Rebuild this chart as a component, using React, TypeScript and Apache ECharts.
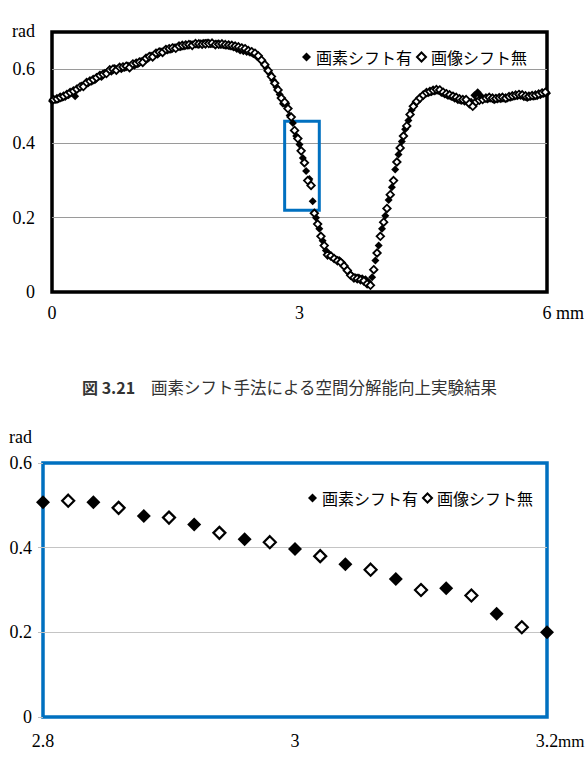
import React, { useEffect, useRef } from "react";
import * as echarts from "echarts";

// ---- data ----
const seriesNames = ["画素シフト有", "画像シフト無"];
const xStep = 0.04;
const filledStartX = 0; // 画素シフト有 : 0.00, 0.04, ... 6.00
const openStartX = 0.02; // 画像シフト無 : 0.02, 0.06, ... 5.98

const filledValues = [
  0.514, 0.517, 0.519, 0.522, 0.525, 0.530, 0.536, 0.527, 0.549, 0.556, 0.560, 0.562, 0.566, 0.570, 0.580, 0.579, 0.590, 0.595, 0.593, 0.603, 0.602, 0.600, 0.603, 0.610, 0.611,
  0.609, 0.613, 0.622, 0.626, 0.627, 0.637, 0.640, 0.639, 0.648, 0.651, 0.650, 0.652, 0.659, 0.660, 0.659, 0.661, 0.663, 0.668, 0.667, 0.666, 0.670, 0.671, 0.672, 0.667, 0.668,
  0.669, 0.665, 0.664, 0.663, 0.661, 0.658, 0.654, 0.650, 0.648, 0.646, 0.644, 0.640, 0.634, 0.628, 0.618, 0.603, 0.588, 0.570, 0.552, 0.532, 0.507, 0.507, 0.475, 0.455, 0.420,
  0.397, 0.361, 0.326, 0.304, 0.244, 0.200, 0.170, 0.138, 0.112, 0.102, 0.093, 0.088, 0.086, 0.078, 0.064, 0.052, 0.042, 0.040, 0.039, 0.037, 0.034, 0.026, 0.040, 0.085, 0.125,
  0.170, 0.205, 0.248, 0.282, 0.330, 0.370, 0.405, 0.438, 0.462, 0.490, 0.508, 0.518, 0.527, 0.534, 0.535, 0.538, 0.540, 0.541, 0.536, 0.532, 0.528, 0.525, 0.520, 0.516, 0.514,
  0.512, 0.515, 0.512, 0.530, 0.538, 0.528, 0.520, 0.518, 0.520, 0.516, 0.518, 0.519, 0.520, 0.521, 0.523, 0.526, 0.527, 0.528, 0.524, 0.522, 0.525, 0.526, 0.527, 0.530, 0.533,
  0.535,
];

const openValues = [
  0.518, 0.520, 0.524, 0.527, 0.532, 0.537, 0.541, 0.546, 0.552, 0.553, 0.564, 0.568, 0.572, 0.577, 0.583, 0.586, 0.588, 0.598, 0.600, 0.597, 0.605, 0.606, 0.608, 0.604, 0.614,
  0.616, 0.619, 0.618, 0.629, 0.634, 0.633, 0.643, 0.646, 0.645, 0.653, 0.655, 0.657, 0.656, 0.662, 0.664, 0.665, 0.666, 0.664, 0.669, 0.668, 0.667, 0.668, 0.669, 0.670, 0.666,
  0.667, 0.668, 0.666, 0.665, 0.664, 0.662, 0.660, 0.657, 0.655, 0.650, 0.647, 0.643, 0.636, 0.624, 0.612, 0.596, 0.580, 0.562, 0.544, 0.522, 0.511, 0.494, 0.471, 0.435, 0.413,
  0.380, 0.348, 0.300, 0.287, 0.212, 0.183, 0.150, 0.125, 0.100, 0.097, 0.090, 0.084, 0.080, 0.070, 0.058, 0.045, 0.038, 0.036, 0.033, 0.030, 0.022, 0.018, 0.060, 0.105, 0.150,
  0.188, 0.225, 0.262, 0.300, 0.350, 0.388, 0.420, 0.447, 0.478, 0.500, 0.513, 0.522, 0.530, 0.537, 0.540, 0.543, 0.545, 0.544, 0.538, 0.534, 0.531, 0.527, 0.524, 0.520, 0.518,
  0.518, 0.507, 0.500, 0.512, 0.516, 0.518, 0.522, 0.524, 0.522, 0.521, 0.523, 0.524, 0.522, 0.526, 0.528, 0.530, 0.532, 0.531, 0.528, 0.527, 0.529, 0.530, 0.533, 0.536, 0.538,
];

const topXRange = [0, 6];
const topXInterval = 3;
const topYRange = [0, 0.7];
const bottomXRange = [2.8, 3.2];
const bottomYRange = [0, 0.6];
const yInterval = 0.2;
const zoomBoxX = [2.82, 3.24];
const zoomBoxY = [0.22, 0.46];
const unitY = "rad";
const unitX = "mm";
const captionLabel = "図 3.21";
const captionText = "画素シフト手法による空間分解能向上実験結果";

const toPoints = (x0: number, values: number[]) =>
  values.map((v, i) => [Math.round((x0 + i * xStep) * 100) / 100, v]);

const SERIF = "'Liberation Serif', 'Times New Roman', serif";
const CJK = "'Noto Sans CJK JP', 'Noto Sans', sans-serif";

const fmtY = (v: number) => {
  if (Math.abs(v) < 1e-9) return "0";
  if (Math.abs(v - 0.7) < 1e-6) return "";
  return v.toFixed(1);
};
const fmtX = (v: number) => String(Math.round(v * 10) / 10);

export default function App() {
  const ref = useRef<HTMLDivElement>(null);
  useEffect(() => {
    if (!ref.current) return;
    const chart = echarts.init(ref.current, null, { renderer: "svg" });
    const filledPts = toPoints(filledStartX, filledValues);
    const openPts = toPoints(openStartX, openValues);

    const labelStyle = (margin: number) => ({
      margin,
      fontFamily: SERIF,
      fontSize: 18,
      color: "#000",
    });

    const textEl = (text: string, x: number, y: number, align: string, font: string, fill = "#000", extra: any = {}) => ({
      type: "text",
      x,
      y,
      silent: true,
      style: {
        text,
        font,
        fill,
        align,
        verticalAlign: "middle",
        textAlign: align,
        textVerticalAlign: "middle",
        ...extra,
      },
    });

    const option: any = {
      animation: false,
      backgroundColor: "#ffffff",
      grid: [
        { left: 52, top: 32, width: 495, height: 260, show: true, borderColor: "#000", borderWidth: 3.5, backgroundColor: "transparent" },
        { left: 43, top: 463, width: 504, height: 254, show: true, borderColor: "#0070c0", borderWidth: 3.5, backgroundColor: "transparent" },
      ],
      xAxis: [
        {
          type: "value", gridIndex: 0, min: topXRange[0], max: topXRange[1], interval: topXInterval,
          axisLine: { show: false }, axisTick: { show: false }, splitLine: { show: false },
          axisLabel: { ...labelStyle(12), formatter: fmtX },
        },
        {
          type: "value", gridIndex: 1, min: bottomXRange[0], max: bottomXRange[1], interval: 0.2,
          axisLine: { show: false }, axisTick: { show: false }, splitLine: { show: false },
          axisLabel: { ...labelStyle(15), formatter: fmtX },
        },
      ],
      yAxis: [
        {
          type: "value", gridIndex: 0, min: topYRange[0], max: topYRange[1], interval: yInterval,
          axisLine: { show: false }, axisTick: { show: false },
          splitLine: { show: true, showMinLine: false, showMaxLine: false, lineStyle: { color: "#9a9a9a", width: 1 } },
          axisLabel: { ...labelStyle(17), formatter: fmtY },
        },
        {
          type: "value", gridIndex: 1, min: bottomYRange[0], max: bottomYRange[1], interval: yInterval,
          axisLine: { show: false },
          axisTick: { show: true, length: 5, lineStyle: { color: "#bfbfbf" } },
          splitLine: { show: true, showMinLine: false, showMaxLine: false, lineStyle: { color: "#c4c4c4", width: 1 } },
          axisLabel: { ...labelStyle(11), formatter: fmtY },
        },
      ],
      legend: [
        {
          data: seriesNames, right: 53, top: 44, itemWidth: 9, itemHeight: 9, itemGap: 4,
          selectedMode: false, textStyle: { fontFamily: CJK, fontSize: 16, color: "#000" },
        },
        {
          data: seriesNames, right: 47, top: 485, itemWidth: 9, itemHeight: 9, itemGap: 4,
          selectedMode: false, textStyle: { fontFamily: CJK, fontSize: 16, color: "#000" },
        },
      ],
      series: [
        {
          name: seriesNames[0], type: "scatter", xAxisIndex: 0, yAxisIndex: 0, data: filledPts,
          symbol: "diamond", symbolSize: 8, itemStyle: { color: "#000", opacity: 1 }, z: 2,
          markArea: {
            silent: true,
            itemStyle: { color: "rgba(0,0,0,0)", borderColor: "#0070c0", borderWidth: 3, opacity: 1 },
            data: [[{ coord: [zoomBoxX[0], zoomBoxY[1]] }, { coord: [zoomBoxX[1], zoomBoxY[0]] }]],
          },
        },
        {
          name: seriesNames[1], type: "scatter", xAxisIndex: 0, yAxisIndex: 0, data: openPts,
          symbol: "diamond", symbolSize: 7.5, itemStyle: { color: "#fff", borderColor: "#000", borderWidth: 1.8, opacity: 1 }, z: 3,
        },
        {
          name: seriesNames[0], type: "scatter", xAxisIndex: 1, yAxisIndex: 1, data: filledPts, clip: true,
          symbol: "diamond", symbolSize: 14, itemStyle: { color: "#000", opacity: 1 }, z: 2,
        },
        {
          name: seriesNames[1], type: "scatter", xAxisIndex: 1, yAxisIndex: 1, data: openPts, clip: true,
          symbol: "diamond", symbolSize: 12, itemStyle: { color: "#fff", borderColor: "#000", borderWidth: 2.2, opacity: 1 }, z: 3,
        },
      ],
      graphic: [
        textEl(unitY, 35, 31, "right", `18px ${SERIF}`),
        textEl(unitX, 556, 313, "left", `18px ${SERIF}`),
        textEl(unitY, 32, 437, "right", `18px ${SERIF}`),
        textEl(unitX, 558, 741, "left", `17px ${SERIF}`),
        textEl(captionLabel, 82, 387, "left", `bold 16px ${CJK}`, "#333"),
        textEl(captionText, 497, 387, "right", `16.5px ${CJK}`, "#333"),
      ],
    };
    chart.setOption(option);
    return () => chart.dispose();
  }, []);
  return <div ref={ref} style={{ position: "fixed", left: 0, top: 0, width: 585, height: 779 }} />;
}
